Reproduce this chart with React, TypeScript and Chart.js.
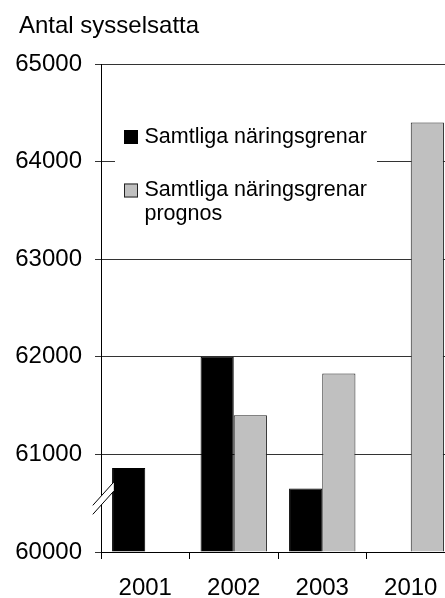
import React, { useEffect, useRef } from 'react';
import { Chart, registerables } from 'chart.js';

Chart.register(...registerables);

const titleText = 'Antal sysselsatta';
const categories = ['2001', '2002', '2003', '2010'];
const seriesNames = ['Samtliga näringsgrenar', 'Samtliga näringsgrenar prognos'];
const actualValues: (number | null)[] = [60860, 62000, 60650, null];
const forecastValues: (number | null)[] = [null, 61400, 61830, 64400];
const yTickValues = [60000, 61000, 62000, 63000, 64000, 65000];
const axisBreakValue = 60525;

const FONT = "'Liberation Sans', Arial, Helvetica, sans-serif";

function wrapText(ctx: CanvasRenderingContext2D, text: string, maxW: number): string[] {
  const words = text.split(' ');
  const lines: string[] = [];
  let cur = '';
  for (const w of words) {
    const test = cur ? cur + ' ' + w : w;
    if (ctx.measureText(test).width > maxW && cur) {
      lines.push(cur);
      cur = w;
    } else {
      cur = test;
    }
  }
  if (cur) lines.push(cur);
  return lines;
}

const topTitle = {
  id: 'topTitle',
  afterDraw(chart: any) {
    const { ctx } = chart;
    ctx.save();
    ctx.font = `24px ${FONT}`;
    ctx.fillStyle = '#000';
    ctx.textAlign = 'left';
    ctx.textBaseline = 'middle';
    ctx.fillText(titleText, 19, 26);
    ctx.restore();
  },
};

const boxLegend = {
  id: 'boxLegend',
  afterDatasetsDraw(chart: any) {
    const { ctx, chartArea } = chart;
    const x0 = chartArea.left + 14;
    const y0 = chartArea.top + 46;
    const w = 262;
    const h = 130;
    ctx.save();
    ctx.fillStyle = '#ffffff';
    ctx.fillRect(x0, y0, w, h);
    ctx.font = `21.5px ${FONT}`;
    ctx.textBaseline = 'middle';
    ctx.textAlign = 'left';
    let y = y0 + 27;
    chart.data.datasets.forEach((ds: any) => {
      ctx.fillStyle = ds.backgroundColor;
      ctx.fillRect(x0 + 9, y - 7, 14, 14);
      ctx.strokeStyle = ds.borderColor;
      ctx.lineWidth = 1;
      ctx.strokeRect(x0 + 9.5, y - 6.5, 13, 13);
      ctx.fillStyle = '#000';
      const lines = wrapText(ctx, ds.label, 245);
      lines.forEach((ln, i) => ctx.fillText(ln, x0 + 29.5, y + i * 24));
      y += 53.5;
    });
    ctx.restore();
  },
};

const axisBreak = {
  id: 'axisBreak',
  afterDatasetsDraw(chart: any) {
    const { ctx, chartArea, scales } = chart;
    const cx = chartArea.left;
    const cy = scales.y.getPixelForValue(axisBreakValue);
    const dxL = -8.2, dxR = 12.8, slope = 23.3 / 21;
    const gap = 9;
    const yAt = (dx: number, off: number) => cy - off - dx * slope;
    ctx.save();
    ctx.fillStyle = '#ffffff';
    ctx.beginPath();
    ctx.moveTo(cx + dxL, yAt(dxL, gap / 2));
    ctx.lineTo(cx + dxR, yAt(dxR, gap / 2));
    ctx.lineTo(cx + dxR, yAt(dxR, -gap / 2));
    ctx.lineTo(cx + dxL, yAt(dxL, -gap / 2));
    ctx.closePath();
    ctx.fill();
    ctx.strokeStyle = '#000';
    ctx.lineWidth = 1;
    [gap / 2, -gap / 2].forEach((off) => {
      ctx.beginPath();
      ctx.moveTo(cx + dxL, yAt(dxL, off));
      ctx.lineTo(cx + dxR, yAt(dxR, off));
      ctx.stroke();
    });
    ctx.restore();
  },
};

export default function App() {
  const canvasRef = useRef<HTMLCanvasElement | null>(null);

  useEffect(() => {
    if (!canvasRef.current) return;
    const chart = new Chart(canvasRef.current, {
      type: 'bar',
      data: {
        labels: categories,
        datasets: [
          {
            label: seriesNames[0],
            data: actualValues,
            backgroundColor: '#000000',
            borderColor: '#000000',
            borderWidth: 1,
            base: yTickValues[0],
            categoryPercentage: 0.75,
            barPercentage: 1,
          } as any,
          {
            label: seriesNames[1],
            data: forecastValues,
            backgroundColor: '#c0c0c0',
            borderColor: '#222222',
            borderWidth: 1,
            base: yTickValues[0],
            categoryPercentage: 0.75,
            barPercentage: 1,
          } as any,
        ],
      },
      plugins: [boxLegend, axisBreak, topTitle],
      options: {
        responsive: false,
        devicePixelRatio: 1,
        animation: false,
        events: [],
        layout: { padding: { left: 0, right: 7, top: 64, bottom: 0 } },
        plugins: {
          legend: { display: false },
          tooltip: { enabled: false },
          title: { display: false },
        },
        scales: {
          x: {
            type: 'category',
            offset: true,
            grid: { display: true, drawOnChartArea: false, drawTicks: true, tickLength: 7, color: '#000', offset: true },
            border: { display: true, color: '#000', width: 1 },
            ticks: { color: '#000', font: { family: FONT, size: 24 }, padding: 15, maxRotation: 0 },
            afterFit: (s: any) => { s.height = 46; },
          },
          y: {
            type: 'linear',
            min: yTickValues[0],
            max: yTickValues[yTickValues.length - 1],
            afterBuildTicks: (s: any) => { s.ticks = yTickValues.map((v) => ({ value: v })); },
            grid: { color: '#333', tickLength: 6, drawTicks: true },
            border: { display: true, color: '#000', width: 1 },
            ticks: { color: '#000', font: { family: FONT, size: 24 }, padding: 13, callback: (v: any) => String(v) },
            afterFit: (s: any) => { s.width = 101; },
          },
        },
      } as any,
    });
    return () => chart.destroy();
  }, []);

  return (
    <div style={{ position: 'fixed', left: 0, top: 0, width: 445, height: 598, overflow: 'hidden', background: '#fff' }}>
      <canvas ref={canvasRef} width={462} height={598} style={{ width: 462, height: 598, display: 'block' }} />
    </div>
  );
}
